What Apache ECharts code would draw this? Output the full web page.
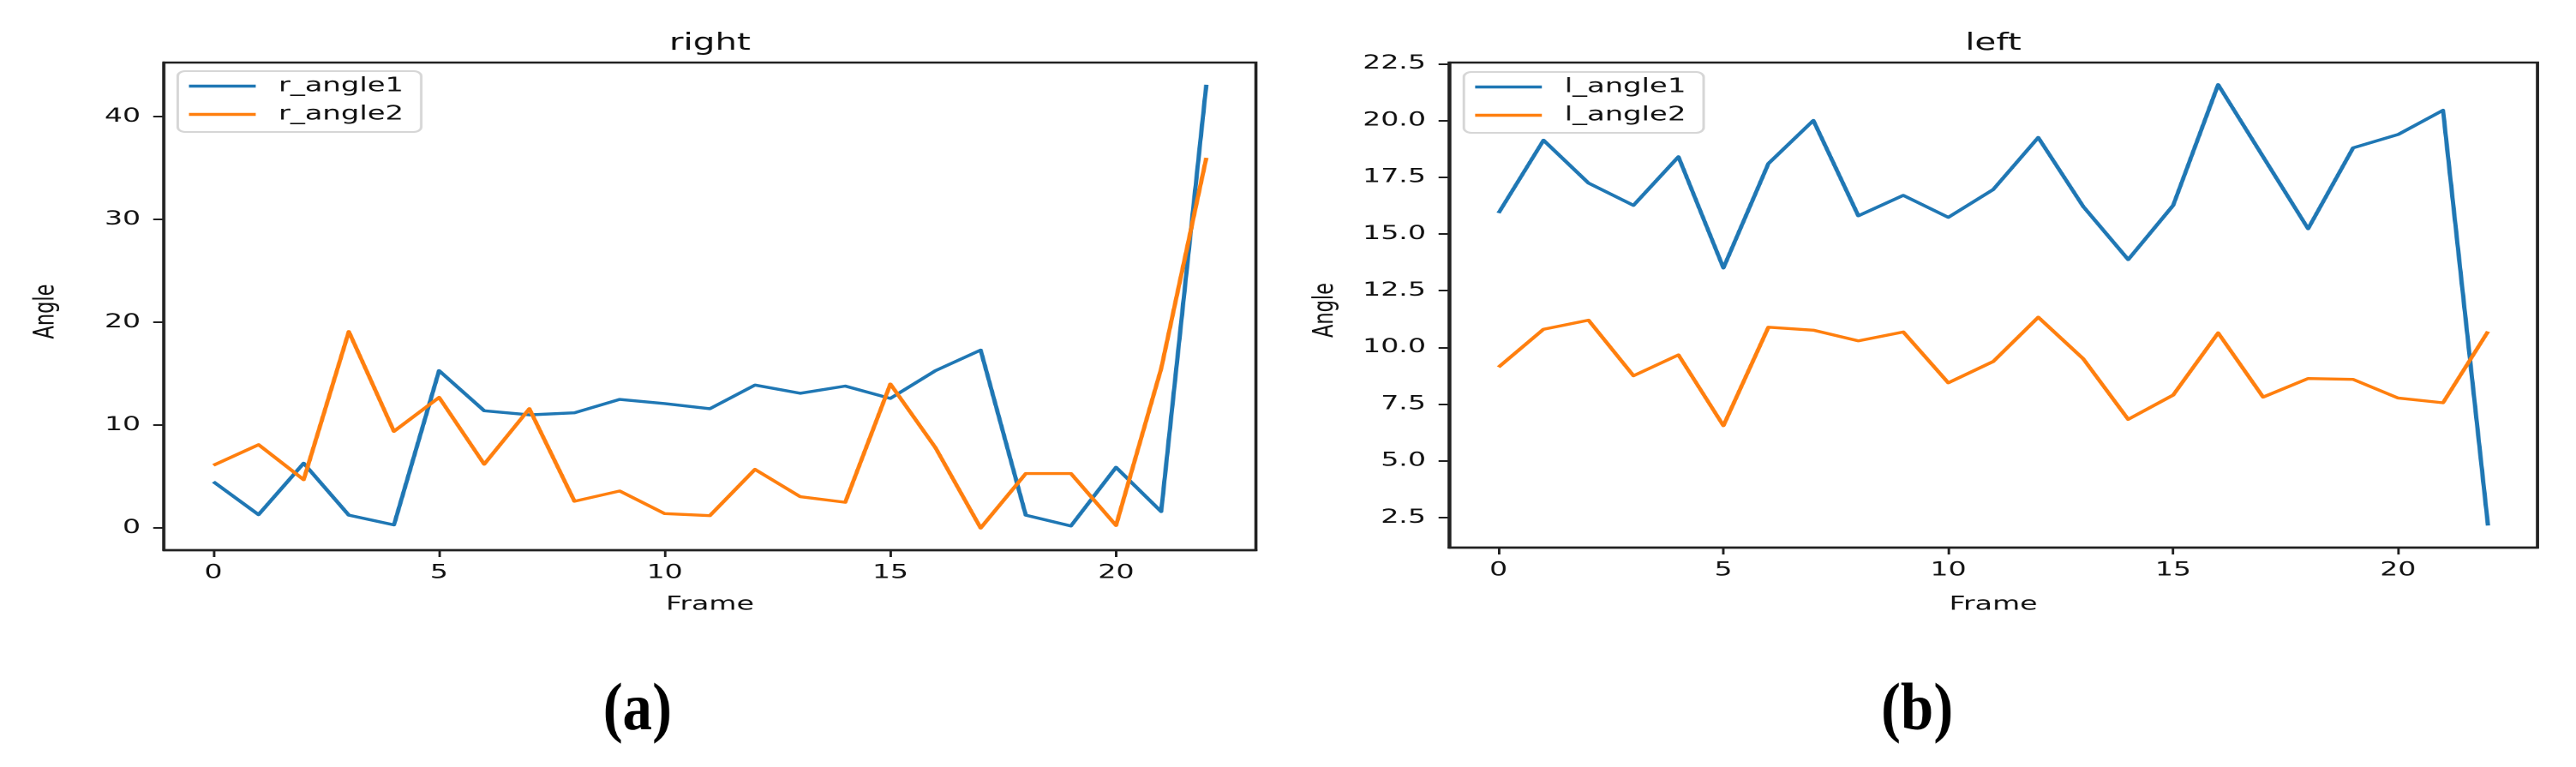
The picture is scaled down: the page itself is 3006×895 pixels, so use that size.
<!DOCTYPE html>
<html>
<head>
<meta charset="utf-8">
<script src="https://cdn.jsdelivr.net/npm/echarts@6/dist/echarts.min.js"></script>
<style>
  html, body { margin: 0; padding: 0; background: #ffffff; overflow: hidden; }
  #wrap { position: absolute; left: 0; top: 0; width: 3006px; height: 895px; overflow: hidden; background: #fff; }
  #chart { position: absolute; left: 0; top: 0; width: 2045px; height: 895px; transform: scaleX(1.47); transform-origin: 0 0; }
</style>
</head>
<body>
<div id="wrap"><div id="chart"></div></div>
<script>
// ---- data ----
const frames = [0, 1, 2, 3, 4, 5, 6, 7, 8, 9, 10, 11, 12, 13, 14, 15, 16, 17, 18, 19, 20, 21, 22];
const rAngle1 = [4.5, 1.3, 6.3, 1.25, 0.3, 15.3, 11.4, 11.0, 11.2, 12.5, 12.1, 11.6, 13.9, 13.1, 13.8, 12.6, 15.3, 17.3, 1.25, 0.2, 5.9, 1.6, 43.1];
const rAngle2 = [6.1, 8.1, 4.7, 19.1, 9.4, 12.7, 6.2, 11.6, 2.6, 3.6, 1.4, 1.2, 5.7, 3.05, 2.5, 14.0, 7.8, 0.0, 5.3, 5.3, 0.25, 15.5, 36.0];
const lAngle1 = [15.92, 19.13, 17.24, 16.26, 18.4, 13.5, 18.1, 20.0, 15.8, 16.7, 15.73, 16.96, 19.25, 16.21, 13.87, 16.26, 21.58, 18.4, 15.23, 18.79, 19.38, 20.45, 2.15];
const lAngle2 = [9.13, 10.8, 11.2, 8.75, 9.67, 6.55, 10.89, 10.76, 10.29, 10.68, 8.44, 9.38, 11.33, 9.5, 6.83, 7.9, 10.64, 7.81, 8.63, 8.59, 7.77, 7.56, 10.7];
const xTicks = [0, 5, 10, 15, 20];
const yTicksRight = [0, 10, 20, 30, 40];
const yTicksLeft = [2.5, 5.0, 7.5, 10.0, 12.5, 15.0, 17.5, 20.0, 22.5];
const panelTitles = ['right', 'left'];
const seriesNames = [['r_angle1', 'r_angle2'], ['l_angle1', 'l_angle2']];
const panelLetters = ['(a)', '(b)'];

// ---- style ----
const FONT = 'DejaVu Sans';
const TXT = '#111111';
const AX = '#222222';
const BLUE = '#1f77b4';
const ORANGE = '#ff7f0e';
const FS = 22.5;

function padRange(arrs) {
  let mn = Infinity, mx = -Infinity;
  arrs.forEach(a => a.forEach(v => { mn = Math.min(mn, v); mx = Math.max(mx, v); }));
  const m = (mx - mn) * 0.05;
  return [mn - m, mx + m];
}
const xPad = (frames[frames.length - 1] - frames[0]) * 0.05;
const rRange = padRange([rAngle1, rAngle2]);
const lRange = padRange([lAngle1, lAngle2]);

const grids = [
  { left: 130, top: 73, width: 867, height: 569 },
  { left: 1150.3, top: 73, width: 864, height: 566 }
];

function xAxisCfg(gi, nameGap) {
  return {
    type: 'value', gridIndex: gi,
    min: frames[0] - xPad, max: frames[frames.length - 1] + xPad,
    name: 'Frame', nameLocation: 'middle', nameGap: nameGap,
    nameTextStyle: { fontSize: FS, color: TXT, fontFamily: FONT },
    axisLine: { show: true, onZero: false, lineStyle: { color: AX, width: 2.4 } },
    axisTick: { show: true, inside: false, length: 8, lineStyle: { color: AX, width: 2 }, customValues: xTicks },
    axisLabel: { show: true, margin: 15, fontSize: FS, color: TXT, fontFamily: FONT, customValues: xTicks },
    splitLine: { show: false }
  };
}
function yAxisCfg(gi, range, ticks, fmt, nameGap) {
  return {
    type: 'value', gridIndex: gi, min: range[0], max: range[1],
    name: 'Angle', nameLocation: 'middle', nameGap: nameGap, nameRotate: 90,
    nameTextStyle: { fontSize: FS, color: TXT, fontFamily: FONT, padding: [0, 12, 0, 0] },
    axisLine: { show: true, onZero: false, lineStyle: { color: AX, width: 2.4 } },
    axisTick: { show: true, inside: false, length: 8.4, lineStyle: { color: AX, width: 2 }, customValues: ticks },
    axisLabel: { show: true, margin: 18.4, fontSize: FS, color: TXT, fontFamily: FONT, customValues: ticks, formatter: fmt },
    splitLine: { show: false }
  };
}
function lineSeries(name, gi, vals, color) {
  return {
    name: name, type: 'line', xAxisIndex: gi, yAxisIndex: gi,
    data: frames.map((f, i) => [f, vals[i]]),
    showSymbol: false, symbol: 'none', clip: true,
    lineStyle: { width: 3.4, color: color, join: 'round' },
    itemStyle: { color: color },
    emphasis: { disabled: true }
  };
}
function legendCfg(names, left, top) {
  return {
    data: names, left: left, top: top, orient: 'vertical',
    icon: 'rect', itemWidth: 53, itemHeight: 3.4, itemGap: 10,
    padding: [6, 14, 9, 9],
    backgroundColor: 'rgba(255,255,255,0.8)', borderColor: '#d6d6d6', borderWidth: 2, borderRadius: 6,
    textStyle: { fontSize: 23, color: TXT, fontFamily: FONT, padding: [0, 0, 0, 13] },
    selectedMode: false
  };
}
function titleCfg(text, cx) {
  return {
    text: text, left: cx, top: 37, textAlign: 'center', padding: 0,
    textStyle: { fontSize: 27.5, fontWeight: 'normal', color: TXT, fontFamily: FONT }
  };
}

const chart = echarts.init(document.getElementById('chart'), null, { renderer: 'canvas', width: 2045, height: 895, devicePixelRatio: 2 });
chart.setOption({
  animation: false,
  backgroundColor: '#ffffff',
  title: [
    titleCfg(panelTitles[0], grids[0].left + grids[0].width / 2),
    titleCfg(panelTitles[1], grids[1].left + grids[1].width / 2)
  ],
  legend: [
    legendCfg(seriesNames[0], 141, 83),
    legendCfg(seriesNames[1], 1162, 84)
  ],
  grid: grids.map(g => Object.assign({
    show: true, borderColor: AX, borderWidth: 2.4, backgroundColor: 'transparent',
    containLabel: false, outerBoundsMode: 'none'
  }, g)),
  xAxis: [xAxisCfg(0, 52), xAxisCfg(1, 55)],
  yAxis: [
    yAxisCfg(0, rRange, yTicksRight, v => String(v), 82),
    yAxisCfg(1, lRange, yTicksLeft, v => v.toFixed(1), 86.5)
  ],
  series: [
    lineSeries(seriesNames[0][0], 0, rAngle1, BLUE),
    lineSeries(seriesNames[0][1], 0, rAngle2, ORANGE),
    lineSeries(seriesNames[1][0], 1, lAngle1, BLUE),
    lineSeries(seriesNames[1][1], 1, lAngle2, ORANGE)
  ],
  graphic: [
    { type: 'text', x: 506, y: 831, scaleX: 0.6, silent: true,
      style: { text: panelLetters[0], font: 'bold 78px "Liberation Serif"', fill: '#000', align: 'center', verticalAlign: 'middle' } },
    { type: 'text', x: 1521.8, y: 831, scaleX: 0.6, silent: true,
      style: { text: panelLetters[1], font: 'bold 78px "Liberation Serif"', fill: '#000', align: 'center', verticalAlign: 'middle' } }
  ]
});
</script>
</body>
</html>
